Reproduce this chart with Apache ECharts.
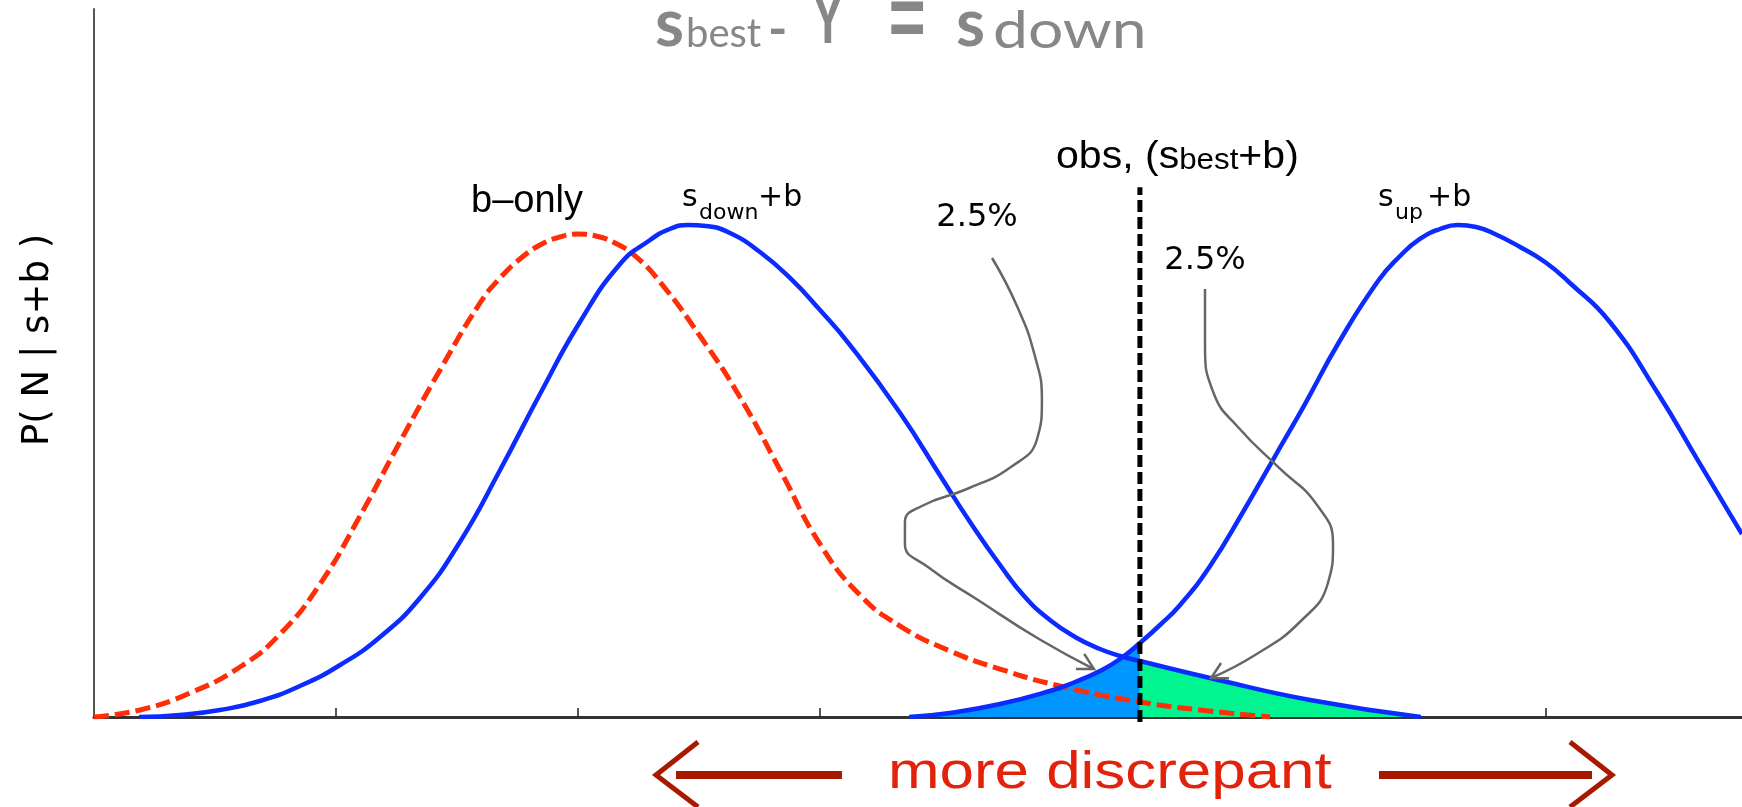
<!DOCTYPE html>
<html>
<head>
<meta charset="utf-8">
<script src="https://cdn.jsdelivr.net/npm/echarts@6/dist/echarts.min.js"></script>
<style>
  html, body { margin: 0; padding: 0; background: #ffffff; }
  #chart { width: 1742px; height: 807px; }
</style>
</head>
<body>
<div id="chart"></div>
<script>
// Axis ticks (unlabelled) along the N axis
const xTicks = [1, 2, 3, 4, 5, 6];

// Observed count and the height of its marker line
const obsX = 4.322;
const obsTop = 73.9;

// b-only distribution, P(N | b)
const bOnly = [
  [0, 0], [0.190, 0.98], [0.397, 3.35], [0.603, 6.97], [0.769, 11.58], [0.934, 18.55],
  [1.099, 28.03], [1.264, 38.35], [1.430, 48.40], [1.595, 57.74], [1.678, 61.23],
  [1.760, 63.88], [1.843, 65.83], [1.926, 66.95], [2.000, 67.36], [2.074, 67.08],
  [2.153, 66.11], [2.236, 64.30], [2.339, 60.67], [2.504, 53.14], [2.669, 44.63],
  [2.835, 34.45], [3.000, 24.13], [3.165, 17.02], [3.331, 12.69], [3.537, 9.21],
  [3.744, 6.69], [3.992, 4.32], [4.322, 2.09], [4.570, 0.98], [4.860, 0]
];

// s_down + b distribution
const sDown = [
  [0.186, 0], [0.355, 0.28], [0.521, 0.98], [0.686, 2.23], [0.851, 4.32], [1.017, 7.25],
  [1.182, 11.16], [1.347, 16.60], [1.512, 24.41], [1.678, 34.45], [1.843, 45.05],
  [2.008, 55.09], [2.174, 63.18], [2.298, 66.53], [2.380, 68.06], [2.455, 68.62],
  [2.529, 68.48], [2.628, 67.50], [2.752, 64.85], [2.876, 61.23], [3.000, 56.76],
  [3.124, 51.88], [3.331, 42.40], [3.508, 33.05], [3.620, 27.20], [3.744, 21.20],
  [3.847, 16.74], [3.950, 13.53], [4.054, 11.16], [4.157, 9.48], [4.240, 8.51],
  [4.322, 7.81], [4.612, 5.44], [5.025, 2.37], [5.483, 0]
];

// s_up + b distribution
const sUp = [
  [3.368, 0], [3.537, 0.56], [3.744, 1.81], [3.950, 3.63], [4.054, 4.88], [4.157, 6.42],
  [4.240, 8.09], [4.322, 10.32], [4.405, 12.83], [4.488, 15.62], [4.612, 21.06],
  [4.748, 28.59], [4.876, 36.12], [5.004, 43.65], [5.145, 52.30], [5.306, 60.81],
  [5.397, 64.30], [5.479, 66.67], [5.562, 68.06], [5.636, 68.62], [5.711, 68.34],
  [5.789, 67.36], [5.893, 65.55], [5.996, 63.46], [6.099, 60.53], [6.264, 55.09],
  [6.459, 45.33], [6.632, 35.56], [6.810, 25.52]
];

// Curved pointers from the "2.5%" labels to the shaded tails
const leftPointer = [
  [3.711, 64.02], [3.814, 57.32], [3.888, 50.35], [3.917, 44.21], [3.897, 38.77],
  [3.789, 34.87], [3.607, 31.80], [3.421, 29.43], [3.351, 27.20], [3.351, 24.13],
  [3.446, 20.92], [3.653, 16.32], [3.905, 10.88], [4.132, 6.69]
];
const rightPointer = [
  [4.591, 59.69], [4.591, 52.02], [4.628, 45.05], [4.731, 40.31], [4.893, 34.87],
  [5.054, 29.57], [5.120, 24.13], [5.099, 18.69], [4.983, 13.25], [4.798, 8.65],
  [4.616, 5.44]
];

const BLUE = '#0b2bff';
const RED = '#ff2d08';
const GRAY = '#666666';

const leftTail = sUp.filter(p => p[0] <= obsX);
const rightTail = sDown.filter(p => p[0] >= obsX);

const chart = echarts.init(document.getElementById('chart'), null, { renderer: 'canvas' });

const curve = (name, data, color, extra) => Object.assign({
  name, type: 'line', data, smooth: 0.5, symbol: 'none', silent: true,
  lineStyle: { color, width: 4.5, cap: 'butt' }, z: 3
}, extra || {});

const tail = (data, color) => ({
  type: 'line', data, smooth: 0.5, symbol: 'none', silent: true, z: 1,
  lineStyle: { width: 0, opacity: 0 }, areaStyle: { color, opacity: 1 }
});

chart.setOption({
  animation: false,
  backgroundColor: '#ffffff',
  grid: { left: 94, right: 0, top: 9, bottom: 90, containLabel: false },
  xAxis: {
    type: 'value', min: 0, max: 6.81,
    axisLine: { show: true, lineStyle: { color: '#333333', width: 3 } },
    axisTick: { show: true, inside: true, length: 9, customValues: xTicks,
                lineStyle: { color: '#222222', width: 1.5 } },
    axisLabel: { show: false },
    splitLine: { show: false }
  },
  yAxis: {
    type: 'value', min: 0, max: 98.745,
    axisLine: { show: true, lineStyle: { color: '#555555', width: 2 } },
    axisTick: { show: false }, axisLabel: { show: false }, splitLine: { show: false }
  },
  series: [
    tail(leftTail, '#0096ff'),
    tail(rightTail, '#00f590'),
    curve('b-only', bOnly, RED, { lineStyle: { color: RED, width: 5, type: [15, 6], cap: 'butt' } }),
    curve('s_down+b', sDown, BLUE),
    curve('s_up+b', sUp, BLUE),
    { type: 'line', data: [[obsX, -0.7], [obsX, obsTop]], symbol: 'none', silent: true, z: 4,
      clip: false, lineStyle: { color: '#000000', width: 5, type: [12, 5] } },
    { type: 'line', data: leftPointer, smooth: 0.5, symbol: 'none', silent: true, z: 5,
      lineStyle: { color: GRAY, width: 2.5 } },
    { type: 'line', data: rightPointer, smooth: 0.5, symbol: 'none', silent: true, z: 5,
      lineStyle: { color: GRAY, width: 2.5 } }
  ]
});

// ---- text and arrow decorations ----
const ctx = document.createElement('canvas').getContext('2d');
function measure(text, size, family, weight) {
  ctx.font = (weight || 'normal') + ' ' + size + 'px "' + family + '"';
  return ctx.measureText(text).width;
}
const MID = { 'Lato': 0.39, 'Liberation Sans': 0.35, 'DejaVu Sans': 0.35 };
function txt(text, left, baseline, size, family, opts) {
  opts = opts || {};
  return {
    type: 'text', x: left, y: opts.y !== undefined ? opts.y : baseline - MID[family] * size,
    scaleX: opts.scaleX || 1, scaleY: opts.scaleY || 1, z: 10, silent: true,
    style: {
      text, fontSize: size, fontFamily: family, fontWeight: opts.weight || 'normal',
      fill: opts.color || '#000000', align: opts.align || 'left', verticalAlign: 'middle'
    }
  };
}

const g = [];
// heading
const TG = '#878787';
g.push(txt('s', 655, 50, 66, 'Lato', { weight: 'bold', color: TG }));
g.push(txt('best', 686, 50, 40, 'Lato', { color: TG }));
g.push(txt('-', 768, 51, 52, 'Lato', { weight: 'bold', color: TG }));
g.push(txt('Y', 812, 48, 72, 'Lato', { weight: 'bold', color: TG, scaleX: 0.68 }));
g.push(txt('=', 886, 0, 46, 'DejaVu Sans', { color: TG, scaleX: 1.1, scaleY: 2.5, y: 24 }));
g.push(txt('s', 956, 50, 66, 'Lato', { weight: 'bold', color: TG }));
g.push(txt('down', 993, 52, 52, 'Lato', { color: TG, scaleX: 1.2 }));

// curve names
g.push(txt('b\u2013only', 471, 215, 38, 'Liberation Sans'));
g.push(txt('s', 682, 209, 30, 'DejaVu Sans'));
g.push(txt('down', 699, 221, 22, 'DejaVu Sans'));
g.push(txt('+b', 758, 209, 30, 'DejaVu Sans'));
g.push(txt('s', 1378, 209, 30, 'DejaVu Sans'));
g.push(txt('up', 1395, 221, 22, 'DejaVu Sans'));
g.push(txt('+b', 1427, 209, 30, 'DejaVu Sans'));

// tail percentages
g.push(txt('2.5%', 977, 229, 32, 'DejaVu Sans', { align: 'center' }));
g.push(txt('2.5%', 1205, 272, 32, 'DejaVu Sans', { align: 'center' }));

// observed label
const OS = 1.08;
let ox = 1056;
const o1 = 'obs, (s', o2 = 'best', o3 = '+b)';
g.push(txt(o1, ox, 171, 38, 'Liberation Sans', { scaleX: OS }));
ox += measure(o1, 38, 'Liberation Sans') * OS;
g.push(txt(o2, ox, 171, 29, 'Liberation Sans', { scaleX: OS }));
ox += measure(o2, 29, 'Liberation Sans') * OS;
g.push(txt(o3, ox, 171, 38, 'Liberation Sans', { scaleX: OS }));

// y axis name
g.push({
  type: 'text', x: 38, y: 340, rotation: Math.PI / 2, z: 10, silent: true,
  style: { text: 'P( N | s+b )', fontSize: 37, fontFamily: 'DejaVu Sans',
           fill: '#000000', align: 'center', verticalAlign: 'middle' }
});

// bottom caption and its arrows
g.push(txt('more discrepant', 888, 792, 52, 'Liberation Sans', { color: '#e3220b', scaleX: 1.19 }));
const DR = '#a81a00';
g.push({ type: 'line', z: 10, silent: true, shape: { x1: 676, y1: 775, x2: 842, y2: 775 },
         style: { stroke: DR, lineWidth: 8 } });
g.push({ type: 'polyline', z: 10, silent: true,
         shape: { points: [[698, 742], [656, 775], [698, 807]] },
         style: { stroke: DR, lineWidth: 5, fill: null, lineJoin: 'miter' } });
g.push({ type: 'line', z: 10, silent: true, shape: { x1: 1379, y1: 775, x2: 1592, y2: 775 },
         style: { stroke: DR, lineWidth: 8 } });
g.push({ type: 'polyline', z: 10, silent: true,
         shape: { points: [[1570, 742], [1612, 775], [1570, 807]] },
         style: { stroke: DR, lineWidth: 5, fill: null, lineJoin: 'miter' } });

// arrowheads at the ends of the pointers
function head(path) {
  const tip = chart.convertToPixel({ gridIndex: 0 }, path[path.length - 1]);
  const prev = chart.convertToPixel({ gridIndex: 0 }, path[path.length - 2]);
  const ang = Math.atan2(tip[1] - prev[1], tip[0] - prev[0]);
  const L = 18, spread = 0.5;
  const a = [tip[0] - L * Math.cos(ang - spread), tip[1] - L * Math.sin(ang - spread)];
  const b = [tip[0] - L * Math.cos(ang + spread), tip[1] - L * Math.sin(ang + spread)];
  return { type: 'polyline', z: 10, silent: true, shape: { points: [a, tip, b] },
           style: { stroke: GRAY, lineWidth: 2.5, fill: null } };
}
g.push(head(leftPointer));
g.push(head(rightPointer));

chart.setOption({ graphic: { elements: g } });
</script>
</body>
</html>
